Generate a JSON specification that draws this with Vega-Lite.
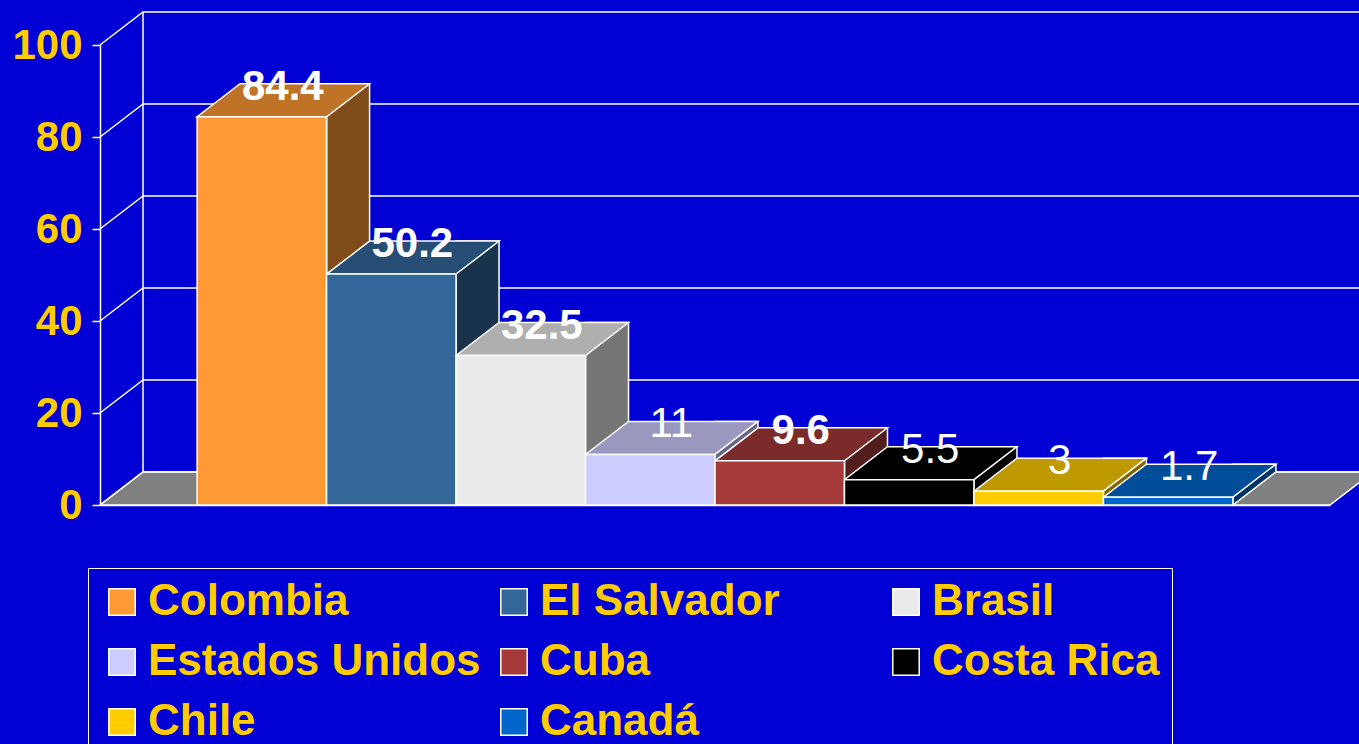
{
  "$schema": "https://vega.github.io/schema/vega-lite/v6.json",
  "autosize": "none",
  "width": 1230,
  "height": 460,
  "padding": {"left": 100, "top": 45, "right": 29, "bottom": 239},
  "background": "#0000d4",
  "config": {
    "view": {"stroke": null},
    "font": "Liberation Sans"
  },
  "data": {
    "values": [
      {"country": "Colombia", "value": 84.4},
      {"country": "El Salvador", "value": 50.2},
      {"country": "Brasil", "value": 32.5},
      {"country": "Estados Unidos", "value": 11},
      {"country": "Cuba", "value": 9.6},
      {"country": "Costa Rica", "value": 5.5},
      {"country": "Chile", "value": 3},
      {"country": "Canadá", "value": 1.7}
    ]
  },
  "resolve": {"scale": {"x": "independent", "color": "independent"}},
  "layer": [
    {
      "data": {"values": [{"part": "floor"}]},
      "mark": {"type": "point", "shape": "M 0 0 L 57.209 0 L 59.209 -1.535 L 2 -1.535 Z M 2 -1.535 L 2 -22.93", "size": 1849, "filled": true, "fill": "#808080", "stroke": "white", "strokeWidth": 1.5, "opacity": 1},
      "encoding": {
        "x": {"datum": 0, "type": "quantitative", "scale": {"domain": [0, 1]}, "axis": null},
        "y": {"datum": 0, "type": "quantitative", "scale": {"domain": [0, 100], "nice": false},
          "axis": {"title": null, "values": [0, 20, 40, 60, 80, 100], "grid": false, "domainColor": "white", "domainWidth": 1.5, "tickColor": "white", "tickWidth": 1.5, "tickSize": 8, "labelColor": "#FFCC00", "labelFont": "Liberation Sans", "labelFontSize": 42, "labelFontWeight": "bold", "labelPadding": 10}}
      }
    },
    {
      "data": {"values": [{"tick": 0}, {"tick": 20}, {"tick": 40}, {"tick": 60}, {"tick": 80}, {"tick": 100}]},
      "mark": {"type": "point", "shape": "M 0 0 L 2 -1.535 L 59.5 -1.535", "size": 1849, "filled": false, "stroke": "white", "strokeWidth": 1.5, "opacity": 1},
      "encoding": {
        "x": {"datum": 0, "type": "quantitative", "scale": {"domain": [0, 1]}, "axis": null},
        "y": {"field": "tick", "type": "quantitative",
          "axis": {"title": null, "values": [0, 20, 40, 60, 80, 100], "grid": false, "domainColor": "white", "domainWidth": 1.5, "tickColor": "white", "tickWidth": 1.5, "tickSize": 8, "labelColor": "#FFCC00", "labelFont": "Liberation Sans", "labelFontSize": 42, "labelFontWeight": "bold", "labelPadding": 10}}
      }
    },
    {
      "mark": {"type": "bar", "width": 43, "xOffset": 86.24, "yOffset": -33, "y2Offset": -33, "stroke": "white", "strokeWidth": 1.5},
      "encoding": {
        "x": {"field": "country", "type": "nominal", "sort": null, "scale": {"type": "band", "paddingInner": 0, "paddingOuter": 0.75}, "axis": null},
        "y": {"field": "value", "type": "quantitative",
          "axis": {"title": null, "values": [0, 20, 40, 60, 80, 100], "grid": false, "domainColor": "white", "domainWidth": 1.5, "tickColor": "white", "tickWidth": 1.5, "tickSize": 8, "labelColor": "#FFCC00", "labelFont": "Liberation Sans", "labelFontSize": 42, "labelFontWeight": "bold", "labelPadding": 10}},
        "y2": {"datum": 0},
        "color": {"field": "country", "type": "nominal", "legend": null, "scale": {"domain": ["Colombia", "El Salvador", "Brasil", "Estados Unidos", "Cuba", "Costa Rica", "Chile", "Canadá"], "range": ["#804D1A", "#1A334D", "#757575", "#666680", "#531D1D", "#000000", "#806600", "#003366"]}}
      }
    },
    {
      "mark": {"type": "point", "shape": "M 3.011 -1.585 L 3.011 0 L 5.076 -1.585", "size": 1849, "filled": true, "stroke": "white", "strokeWidth": 1.5, "opacity": 1},
      "encoding": {
        "x": {"field": "country", "type": "nominal", "sort": null, "scale": {"type": "band", "paddingInner": 0, "paddingOuter": 0.75}, "axis": null},
        "y": {"datum": 0, "type": "quantitative",
          "axis": {"title": null, "values": [0, 20, 40, 60, 80, 100], "grid": false, "domainColor": "white", "domainWidth": 1.5, "tickColor": "white", "tickWidth": 1.5, "tickSize": 8, "labelColor": "#FFCC00", "labelFont": "Liberation Sans", "labelFontSize": 42, "labelFontWeight": "bold", "labelPadding": 10}},
        "color": {"field": "country", "type": "nominal", "legend": null, "scale": {"domain": ["Colombia", "El Salvador", "Brasil", "Estados Unidos", "Cuba", "Costa Rica", "Chile", "Canadá"], "range": ["#804D1A", "#1A334D", "#757575", "#666680", "#531D1D", "#000000", "#806600", "#003366"]}}
      }
    },
    {
      "mark": {"type": "point", "shape": "M -3.011 0 L 3.011 0 L 5.011 -1.535 L -1.011 -1.535 Z", "size": 1849, "filled": true, "stroke": "white", "strokeWidth": 1.5, "opacity": 1},
      "encoding": {
        "x": {"field": "country", "type": "nominal", "sort": null, "scale": {"type": "band", "paddingInner": 0, "paddingOuter": 0.75}, "axis": null},
        "y": {"field": "value", "type": "quantitative",
          "axis": {"title": null, "values": [0, 20, 40, 60, 80, 100], "grid": false, "domainColor": "white", "domainWidth": 1.5, "tickColor": "white", "tickWidth": 1.5, "tickSize": 8, "labelColor": "#FFCC00", "labelFont": "Liberation Sans", "labelFontSize": 42, "labelFontWeight": "bold", "labelPadding": 10}},
        "color": {"field": "country", "type": "nominal", "legend": null, "scale": {"domain": ["Colombia", "El Salvador", "Brasil", "Estados Unidos", "Cuba", "Costa Rica", "Chile", "Canadá"], "range": ["#BF7326", "#264D73", "#AFAFAF", "#9999BF", "#7C2B2B", "#000000", "#BF9900", "#004D99"]}}
      }
    },
    {
      "mark": {"type": "bar", "stroke": "white", "strokeWidth": 1.5},
      "encoding": {
        "x": {"field": "country", "type": "nominal", "sort": null, "scale": {"type": "band", "paddingInner": 0, "paddingOuter": 0.75}, "axis": {"title": null, "labels": false, "ticks": false, "grid": false, "domainColor": "white", "domainWidth": 1.5}},
        "y": {"field": "value", "type": "quantitative",
          "axis": {"title": null, "values": [0, 20, 40, 60, 80, 100], "grid": false, "domainColor": "white", "domainWidth": 1.5, "tickColor": "white", "tickWidth": 1.5, "tickSize": 8, "labelColor": "#FFCC00", "labelFont": "Liberation Sans", "labelFontSize": 42, "labelFontWeight": "bold", "labelPadding": 10}},
        "color": {"field": "country", "type": "nominal", "scale": {"domain": ["Colombia", "El Salvador", "Brasil", "Estados Unidos", "Cuba", "Costa Rica", "Chile", "Canadá"], "range": ["#FF9933", "#336699", "#EAEAEA", "#CCCCFF", "#A63A3A", "#000000", "#FFCC00", "#0066CC"]},
          "legend": {"orient": "none", "legendX": -12, "legendY": 523, "columns": 3, "direction": "horizontal", "title": null, "symbolType": "square", "symbolSize": 700, "symbolStrokeColor": "white", "symbolStrokeWidth": 1.5, "labelFont": "Liberation Sans", "labelFontSize": 44, "labelFontWeight": "bold", "labelColor": "#FFCC00", "labelOffset": 4, "labelLimit": 600, "columnPadding": 11, "rowPadding": 16, "padding": 12, "strokeColor": "white", "gridAlign": "all"}}
      }
    },
    {
      "transform": [{"filter": "datum.country === 'Colombia' || datum.country === 'El Salvador' || datum.country === 'Brasil' || datum.country === 'Cuba'"}],
      "mark": {"type": "text", "dx": 21, "dy": -17, "baseline": "alphabetic", "align": "center", "color": "white", "font": "Liberation Sans", "fontSize": 42, "fontWeight": "bold"},
      "encoding": {
        "x": {"field": "country", "type": "nominal", "scale": {"type": "band", "domain": ["Colombia", "El Salvador", "Brasil", "Estados Unidos", "Cuba", "Costa Rica", "Chile", "Canadá"], "paddingInner": 0, "paddingOuter": 0.75}, "axis": null},
        "y": {"field": "value", "type": "quantitative",
          "axis": {"title": null, "values": [0, 20, 40, 60, 80, 100], "grid": false, "domainColor": "white", "domainWidth": 1.5, "tickColor": "white", "tickWidth": 1.5, "tickSize": 8, "labelColor": "#FFCC00", "labelFont": "Liberation Sans", "labelFontSize": 42, "labelFontWeight": "bold", "labelPadding": 10}},
        "text": {"field": "value", "type": "quantitative"}
      }
    },
    {
      "transform": [{"filter": "datum.country === 'Estados Unidos' || datum.country === 'Costa Rica' || datum.country === 'Chile' || datum.country === 'Canadá'"}],
      "mark": {"type": "text", "dx": 21, "dy": -17, "baseline": "alphabetic", "align": "center", "color": "white", "font": "Liberation Sans", "fontSize": 42, "fontWeight": "normal"},
      "encoding": {
        "x": {"field": "country", "type": "nominal", "scale": {"type": "band", "domain": ["Colombia", "El Salvador", "Brasil", "Estados Unidos", "Cuba", "Costa Rica", "Chile", "Canadá"], "paddingInner": 0, "paddingOuter": 0.75}, "axis": null},
        "y": {"field": "value", "type": "quantitative",
          "axis": {"title": null, "values": [0, 20, 40, 60, 80, 100], "grid": false, "domainColor": "white", "domainWidth": 1.5, "tickColor": "white", "tickWidth": 1.5, "tickSize": 8, "labelColor": "#FFCC00", "labelFont": "Liberation Sans", "labelFontSize": 42, "labelFontWeight": "bold", "labelPadding": 10}},
        "text": {"field": "value", "type": "quantitative"}
      }
    }
  ]
}
